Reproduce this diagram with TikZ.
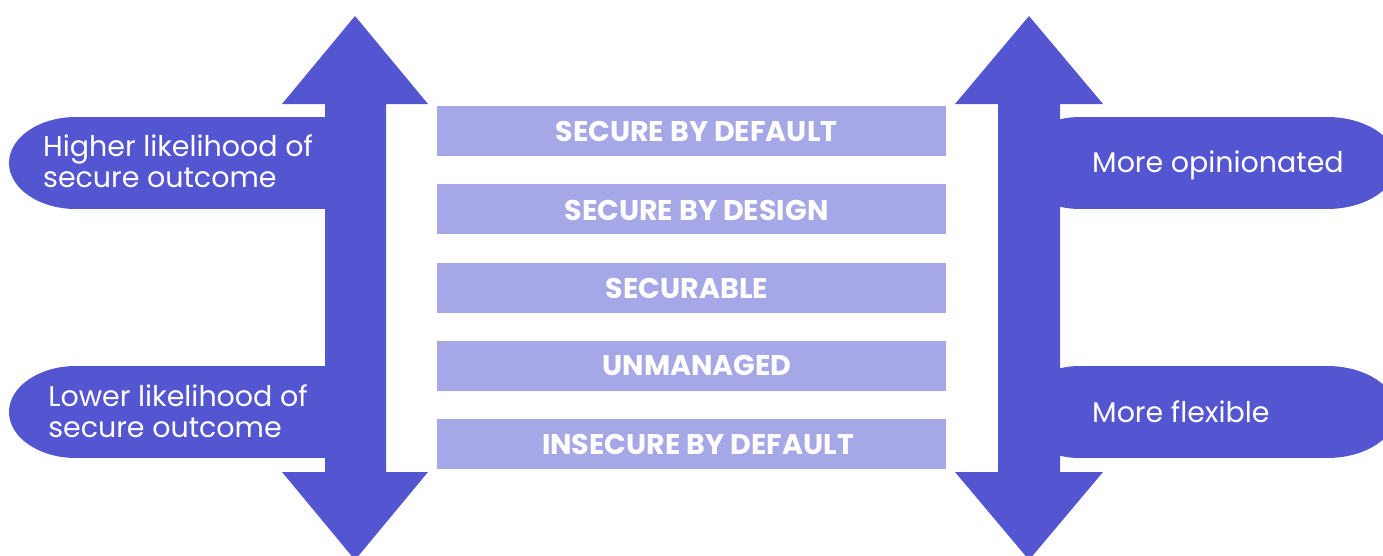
\documentclass[tikz,border=0pt]{standalone}
\usepackage{fontspec}
\setmainfont{Poppins}
\definecolor{arrowblue}{HTML}{5456D1}
\definecolor{bandlav}{HTML}{A6A7E6}
\begin{document}
\begin{tikzpicture}[x=1pt,y=-1pt,
  band/.style={fill=bandlav, minimum width=509pt, minimum height=50pt, inner sep=0pt},
  bandtext/.style={text=white, inner sep=0pt, font=\bfseries\fontsize{28.5}{31}\selectfont},
  sidetext/.style={text=white, font=\fontsize{28.5}{31}\selectfont, align=left, inner sep=0pt},
  shape fill/.style={fill=arrowblue}]
\useasboundingbox (0,0) rectangle (1383,555);

% left double arrow with its two rounded tabs
\fill[shape fill] (355,16) -- (428,104) -- (386,104) -- (386,472) -- (428,472)
  -- (355,560) -- (282,472) -- (325,472) -- (325,104) -- (282,104) -- cycle;
\fill[shape fill] (76,163) ellipse [x radius=67, y radius=46];
\fill[shape fill] (76,117) rectangle (340,209);
\fill[shape fill] (76,412) ellipse [x radius=67, y radius=46];
\fill[shape fill] (76,366) rectangle (340,458);

% right double arrow with its two rounded tabs
\fill[shape fill] (1029,16) -- (1103,104) -- (1060,104) -- (1060,472) -- (1103,472)
  -- (1029,560) -- (955,472) -- (998,472) -- (998,104) -- (955,104) -- cycle;
\fill[shape fill] (1080,163) ellipse [x radius=64, y radius=46];
\fill[shape fill] (1327,163) ellipse [x radius=70, y radius=46];
\fill[shape fill] (1080,117) rectangle (1327,209);
\fill[shape fill] (1080,412) ellipse [x radius=64, y radius=46];
\fill[shape fill] (1327,412) ellipse [x radius=70, y radius=46];
\fill[shape fill] (1080,366) rectangle (1327,458);

% the five levels
\node[band] (sbd) at (691.5,131) {};
\node[band] (sdes) at (691.5,209) {};
\node[band] (secb) at (691.5,287.5) {};
\node[band] (unm) at (691.5,365.5) {};
\node[band] (insec) at (691.5,443.5) {};
\node[bandtext] (sbdt) at ([xshift=5pt,yshift=-0.5pt]sbd.center) {SECURE BY DEFAULT};
\node[bandtext] (sdest) at ([xshift=5pt,yshift=-1.5pt]sdes.center) {SECURE BY DESIGN};
\node[bandtext] (secbt) at ([xshift=-4.5pt,yshift=-1pt]secb.center) {SECURABLE};
\node[bandtext] (unmt) at ([xshift=5.5pt,yshift=0pt]unm.center) {UNMANAGED};
\node[bandtext] (insect) at ([xshift=6.5pt,yshift=-0.5pt]insec.center) {INSECURE BY DEFAULT};

% tab labels
\node[sidetext] (higher) at (178,161.5) {Higher likelihood of\\secure outcome};
\node[sidetext] (lower) at (178,411) {Lower likelihood of\\secure outcome};
\node[sidetext, anchor=base west] (opin) at (1092,172) {More opinionated};
\node[sidetext, anchor=base west] (flex) at (1092,422) {More flexible};
\end{tikzpicture}
\end{document}
